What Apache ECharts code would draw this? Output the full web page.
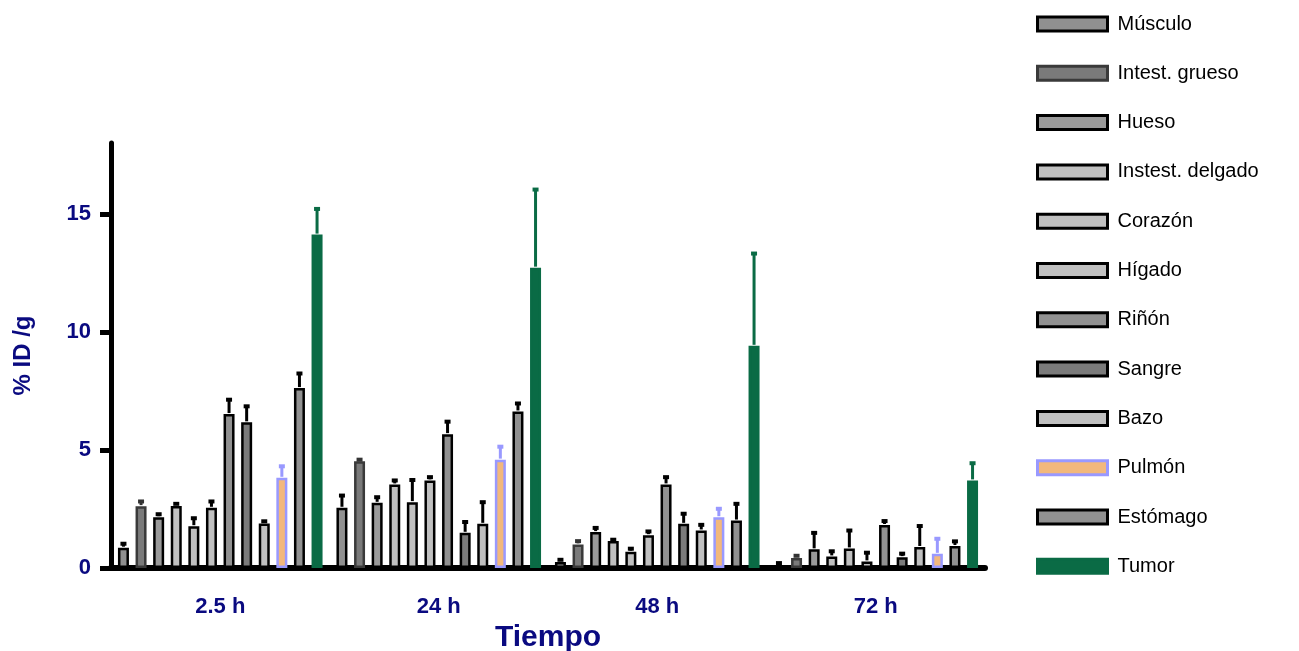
<!DOCTYPE html>
<html>
<head>
<meta charset="utf-8">
<script src="https://cdn.jsdelivr.net/npm/echarts@6/dist/echarts.min.js"></script>
<style>
  html, body { margin: 0; padding: 0; background: #fff; }
  #chart { width: 1299px; height: 651px; }
</style>
</head>
<body>
<div id="chart"></div>
<script>
// tiempos
var tiempos = ['2.5 h', '24 h', '48 h', '72 h']
var organos = ['Músculo', 'Intest. grueso', 'Hueso', 'Instest. delgado', 'Corazón', 'Hígado', 'Riñón', 'Sangre', 'Bazo', 'Pulmón', 'Estómago', 'Tumor']
// medias %ID/g por órgano (2.5h, 24h, 48h, 72h)
var medias = [
  [0.86, 2.55, 0.25, 0.11],
  [2.62, 4.52, 1.0, 0.42],
  [2.15, 2.76, 1.52, 0.79],
  [2.63, 3.54, 1.14, 0.49],
  [1.77, 2.79, 0.69, 0.83],
  [2.55, 3.71, 1.39, 0.28],
  [6.52, 5.67, 3.54, 1.82],
  [6.17, 1.49, 1.87, 0.46],
  [1.89, 1.87, 1.59, 0.89],
  [3.82, 4.59, 2.15, 0.6],
  [7.62, 6.63, 2.01, 0.93],
  [14.12, 12.72, 9.41, 3.71],
]
// desviación estándar
var desv = [
  [0.21, 0.56, 0.14, 0.14],
  [0.24, 0.11, 0.18, 0.14],
  [0.17, 0.28, 0.22, 0.74],
  [0.13, 0.21, 0.1, 0.26],
  [0.38, 0.98, 0.17, 0.8],
  [0.31, 0.18, 0.2, 0.41],
  [0.65, 0.57, 0.35, 0.21],
  [0.72, 0.5, 0.47, 0.19],
  [0.13, 0.96, 0.28, 0.93],
  [0.53, 0.59, 0.4, 0.68],
  [0.66, 0.38, 0.75, 0.24],
  [1.13, 3.35, 3.95, 0.77],
]
var yTicks = [0, 5, 10, 15]

var relleno = ['#909090', '#7a7a7a', '#9a9a9a', '#c0c0c0', '#c0c0c0', '#c0c0c0', '#919191', '#7b7b7b', '#c0c0c0', '#f2b87c', '#919191', '#0a6b45']
var borde = ['#000', '#3a3a3a', '#000', '#000', '#000', '#000', '#000', '#000', '#000', '#9999ff', '#000', '#0a6b45']
var colorErr = ['#000', '#333', '#000', '#000', '#000', '#000', '#000', '#000', '#000', '#9999ff', '#000', '#0a6b45']

var navy = '#0a0a80'
var fuente = 'Liberation Sans, Arial, sans-serif'
var barW = 11
var gapPct = 0.6
var paso = barW * (1 + gapPct)

var chart = echarts.init(document.getElementById('chart'))

var series = []
organos.forEach(function (nom, k) {
  series.push({
    name: nom,
    type: 'bar',
    barWidth: barW,
    barGap: gapPct * 100 + '%',
    itemStyle: {
      color: relleno[k],
      borderColor: borde[k],
      borderWidth: 2.5,
    },
    data: medias[k],
    z: 2,
  })
})

// barras de error (solo hacia arriba)
var errData = []
organos.forEach(function (nom, k) {
  for (var t = 0; t < tiempos.length; t++) {
    errData.push([t, k, medias[k][t], medias[k][t] + desv[k][t]])
  }
})
series.push({
  type: 'custom',
  name: 'err',
  encode: { x: 0, y: [2, 3] },
  z: 3,
  silent: true,
  data: errData,
  renderItem: function (params, api) {
    var k = api.value(1)
    var base = api.coord([api.value(0), api.value(2)])
    var top = api.coord([api.value(0), api.value(3)])
    var x = base[0] + (k - 5.5) * paso
    var c = colorErr[k]
    return {
      type: 'group',
      children: [
        { type: 'line', shape: { x1: x, y1: base[1] - 1, x2: x, y2: top[1] }, style: { stroke: c, lineWidth: 3 } },
        { type: 'rect', shape: { x: x - 3, y: top[1] - 1, width: 6, height: 4 }, style: { fill: c } },
      ],
    }
  },
})

var option = {
  animation: false,
  textStyle: { fontFamily: fuente },
  grid: { left: 111, right: 314, top: 143, bottom: 83, outerBoundsMode: 'none' },
  legend: {
    orient: 'vertical',
    left: 1036,
    top: 14,
    padding: 0,
    itemWidth: 70,
    itemHeight: 14,
    itemGap: 29.3,
    icon: 'rect',
    itemStyle: { borderWidth: 3 },
    textStyle: { fontSize: 20, color: '#000', fontFamily: fuente, lineHeight: 20, padding: [0, 0, 0, 5] },
    data: organos,
  },
  xAxis: {
    type: 'category',
    data: tiempos,
    name: 'Tiempo',
    nameLocation: 'middle',
    nameGap: 55,
    nameTextStyle: { color: navy, fontSize: 30, fontWeight: 'bold', fontFamily: fuente },
    axisLine: { lineStyle: { color: '#000', width: 6 } },
    axisTick: { show: false },
    axisLabel: { color: navy, fontSize: 22, fontWeight: 'bold', margin: 28, fontFamily: fuente },
  },
  yAxis: {
    type: 'value',
    min: 0,
    max: 18,
    interval: 5,
    name: '% ID /g',
    nameLocation: 'middle',
    nameGap: 76,
    nameTextStyle: { color: navy, fontSize: 24, fontWeight: 'bold', fontFamily: fuente },
    splitLine: { show: false },
    axisLine: { show: true, lineStyle: { color: '#000', width: 5 } },
    axisTick: { show: true, length: 11, customValues: yTicks, lineStyle: { color: '#000', width: 5 } },
    axisLabel: { color: navy, fontSize: 22, fontWeight: 'bold', margin: 20, customValues: yTicks, fontFamily: fuente },
  },
  series: series,
}
chart.setOption(option)
</script>
</body>
</html>
